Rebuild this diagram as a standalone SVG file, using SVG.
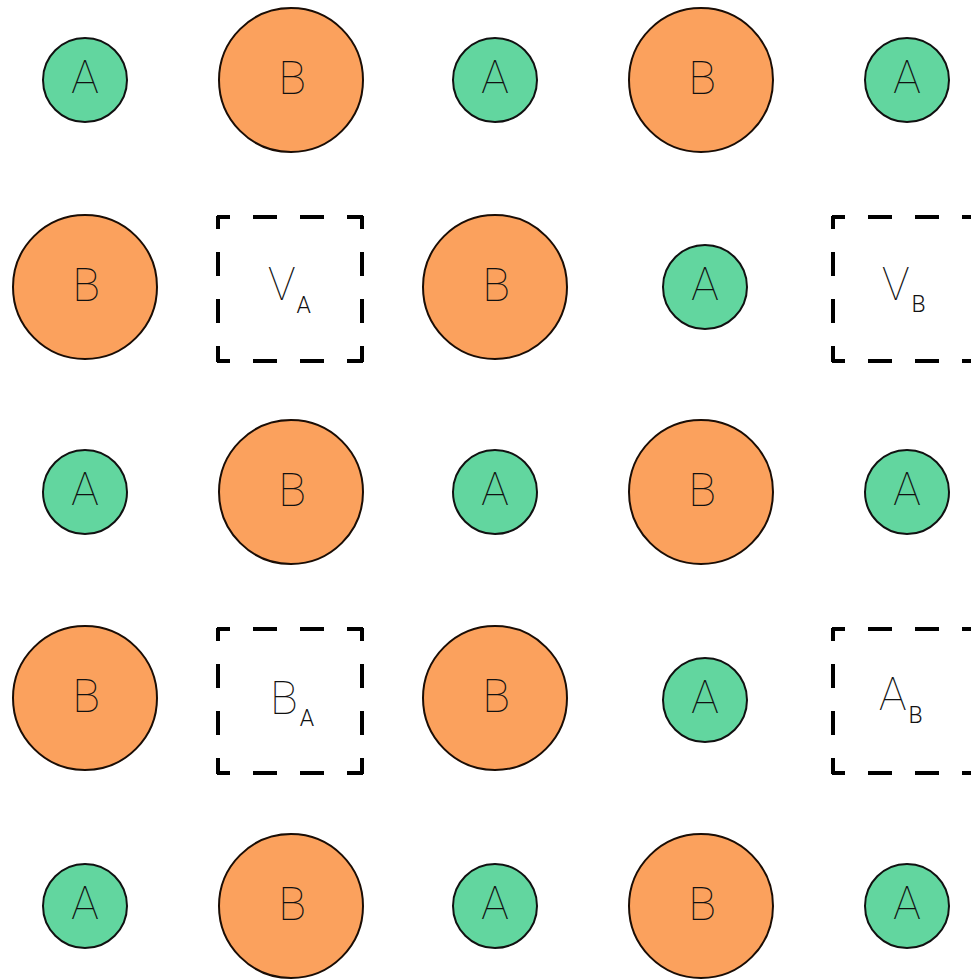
<svg xmlns="http://www.w3.org/2000/svg" width="971" height="980" viewBox="0 0 971 980">
<style>
.a{fill:#62d69f;stroke:#111;stroke-width:2}
.b{fill:#fba15d;stroke:#1a0d05;stroke-width:2}
.t{font-family:Roboto,"Liberation Sans",sans-serif;font-weight:100;font-size:46px;fill:#111;text-anchor:middle}
.s{font-family:Roboto,"Liberation Sans",sans-serif;font-weight:100;font-size:46px;fill:#111}
.sub{font-size:23px;font-weight:300}
.box line{stroke:#000;stroke-width:4;stroke-dasharray:24 23;stroke-dashoffset:11}
</style>
<rect width="971" height="980" fill="#fff"/>
<g id="connectors"/>
<!-- row 1 -->
<g id="r1c1"><circle class="a" cx="85" cy="80" r="42"/><text class="t" x="85" y="93">A</text></g>
<g id="r1c2"><circle class="b" cx="291" cy="80" r="72"/><text class="t" x="292" y="94">B</text></g>
<g id="r1c3"><circle class="a" cx="495" cy="80" r="42"/><text class="t" x="495" y="93">A</text></g>
<g id="r1c4"><circle class="b" cx="701" cy="80" r="72"/><text class="t" x="702" y="94">B</text></g>
<g id="r1c5"><circle class="a" cx="907" cy="80" r="42"/><text class="t" x="907" y="93">A</text></g>
<!-- row 2 -->
<g id="r2c1"><circle class="b" cx="85" cy="287" r="72"/><text class="t" x="86" y="301">B</text></g>
<g id="VA" class="box">
<line x1="217" y1="217" x2="363" y2="217"/><line x1="362" y1="216" x2="362" y2="362"/>
<line x1="217" y1="361" x2="363" y2="361"/><line x1="218" y1="216" x2="218" y2="362"/>
<text class="s" x="268" y="300">V<tspan class="sub" dx="1" dy="13">A</tspan></text></g>
<g id="r2c3"><circle class="b" cx="495" cy="287" r="72"/><text class="t" x="496" y="301">B</text></g>
<g id="r2c4"><circle class="a" cx="705" cy="287" r="42"/><text class="t" x="705" y="300">A</text></g>
<g id="VB" class="box">
<line x1="832" y1="217" x2="978" y2="217"/><line x1="977" y1="216" x2="977" y2="362"/>
<line x1="832" y1="361" x2="978" y2="361"/><line x1="833" y1="216" x2="833" y2="362"/>
<text class="s" x="882" y="300">V<tspan class="sub" dx="2" dy="12">B</tspan></text></g>
<!-- row 3 -->
<g id="r3c1"><circle class="a" cx="85" cy="492" r="42"/><text class="t" x="85" y="505">A</text></g>
<g id="r3c2"><circle class="b" cx="291" cy="492" r="72"/><text class="t" x="292" y="506">B</text></g>
<g id="r3c3"><circle class="a" cx="495" cy="492" r="42"/><text class="t" x="495" y="505">A</text></g>
<g id="r3c4"><circle class="b" cx="701" cy="492" r="72"/><text class="t" x="702" y="506">B</text></g>
<g id="r3c5"><circle class="a" cx="907" cy="492" r="42"/><text class="t" x="907" y="505">A</text></g>
<!-- row 4 -->
<g id="r4c1"><circle class="b" cx="85" cy="698" r="72"/><text class="t" x="86" y="712">B</text></g>
<g id="BA" class="box">
<line x1="217" y1="629" x2="363" y2="629"/><line x1="362" y1="628" x2="362" y2="774"/>
<line x1="217" y1="773" x2="363" y2="773"/><line x1="218" y1="628" x2="218" y2="774"/>
<text class="s" x="270" y="714">B<tspan class="sub" dx="2" dy="12">A</tspan></text></g>
<g id="r4c3"><circle class="b" cx="495" cy="698" r="72"/><text class="t" x="496" y="712">B</text></g>
<g id="r4c4"><circle class="a" cx="705" cy="700" r="42"/><text class="t" x="705" y="713">A</text></g>
<g id="AB" class="box">
<line x1="832" y1="629" x2="978" y2="629"/><line x1="977" y1="628" x2="977" y2="774"/>
<line x1="832" y1="773" x2="978" y2="773"/><line x1="833" y1="628" x2="833" y2="774"/>
<text class="s" x="879" y="710">A<tspan class="sub" dx="2" dy="13">B</tspan></text></g>
<!-- row 5 -->
<g id="r5c1"><circle class="a" cx="85" cy="906" r="42"/><text class="t" x="85" y="919">A</text></g>
<g id="r5c2"><circle class="b" cx="291" cy="906" r="72"/><text class="t" x="292" y="920">B</text></g>
<g id="r5c3"><circle class="a" cx="495" cy="906" r="42"/><text class="t" x="495" y="919">A</text></g>
<g id="r5c4"><circle class="b" cx="701" cy="906" r="72"/><text class="t" x="702" y="920">B</text></g>
<g id="r5c5"><circle class="a" cx="907" cy="906" r="42"/><text class="t" x="907" y="919">A</text></g>
</svg>
